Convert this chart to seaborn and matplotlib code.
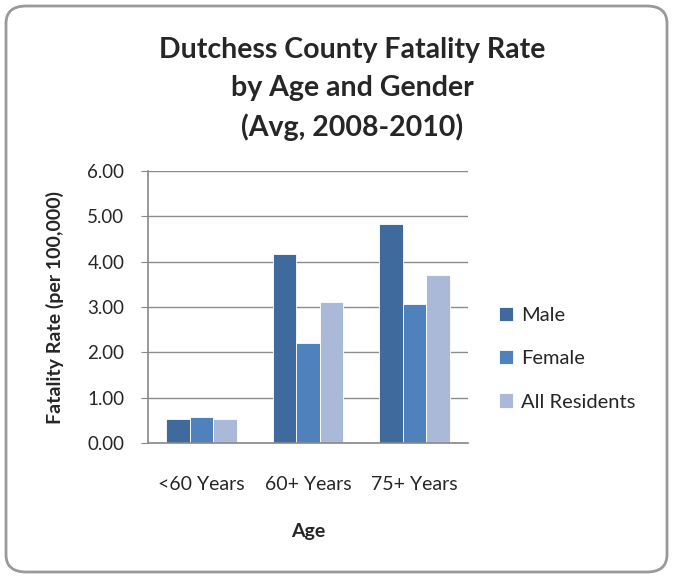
import numpy as np
import pandas as pd
import seaborn as sns
import matplotlib.pyplot as plt
from matplotlib.patches import FancyBboxPatch

# data
ages = ["<60 Years", "60+ Years", "75+ Years"]
male = [0.53, 4.18, 4.82]
female = [0.57, 2.20, 3.06]
all_residents = [0.53, 3.11, 3.71]
series = ["Male", "Female", "All Residents"]
colors = ["#3F6A9E", "#4F81BD", "#AAB9D7"]

df = pd.DataFrame({
    "Age": ages * 3,
    "Group": [s for s in series for _ in ages],
    "Rate": male + female + all_residents,
})

sns.set_style("white")
plt.rcParams["font.family"] = ["Lato", "DejaVu Sans"]

fig = plt.figure(figsize=(6.73, 5.78), dpi=100)
ax = fig.add_axes([148 / 673, 1 - 443 / 578, 320 / 673, 272 / 578])

sns.barplot(data=df, x="Age", y="Rate", hue="Group", palette=colors,
            saturation=1, width=0.665, ax=ax, edgecolor="white", linewidth=0.6)

ax.set_ylim(0, 6)
ax.set_yticks(np.arange(0, 6.01, 1))
ax.set_yticklabels([f"{v:.2f}" for v in np.arange(0, 6.01, 1)], fontsize=13.5)
ax.tick_params(axis="x", labelsize=14, length=0, pad=24)
ax.tick_params(axis="y", length=5, color="#888888", direction="out", pad=12, left=True)
ax.yaxis.grid(True, color="#8c8c8c", linewidth=1)
ax.set_axisbelow(True)
for s in ["top", "right"]:
    ax.spines[s].set_visible(False)
for s in ["left", "bottom"]:
    ax.spines[s].set_color("#888888")
    ax.spines[s].set_linewidth(1.2)

ax.set_xlabel("Age", fontsize=14, fontweight="bold", labelpad=21)
ax.set_ylabel("Fatality Rate (per 100,000)", fontsize=14, fontweight="bold", labelpad=17)

fig.text(352 / 673, 1 - 37 / 578, "Dutchess County Fatality Rate\nby Age and Gender\n(Avg, 2008-2010)",
         ha="center", va="top", fontsize=20.5, fontweight="bold", linespacing=1.55)

ax.legend(loc="center left", bbox_to_anchor=(1.04, 0.31), frameon=False,
          fontsize=14.5, handlelength=0.7, handleheight=0.7, handletextpad=0.4,
          labelspacing=1.3)

fig.patches.append(FancyBboxPatch((6 / 673, 6 / 578), 661 / 673, 566 / 578,
                                  boxstyle="round,pad=0,rounding_size=0.03",
                                  transform=fig.transFigure, facecolor="none",
                                  edgecolor="#999999", linewidth=2))

fig.savefig("out.png", dpi=100)
